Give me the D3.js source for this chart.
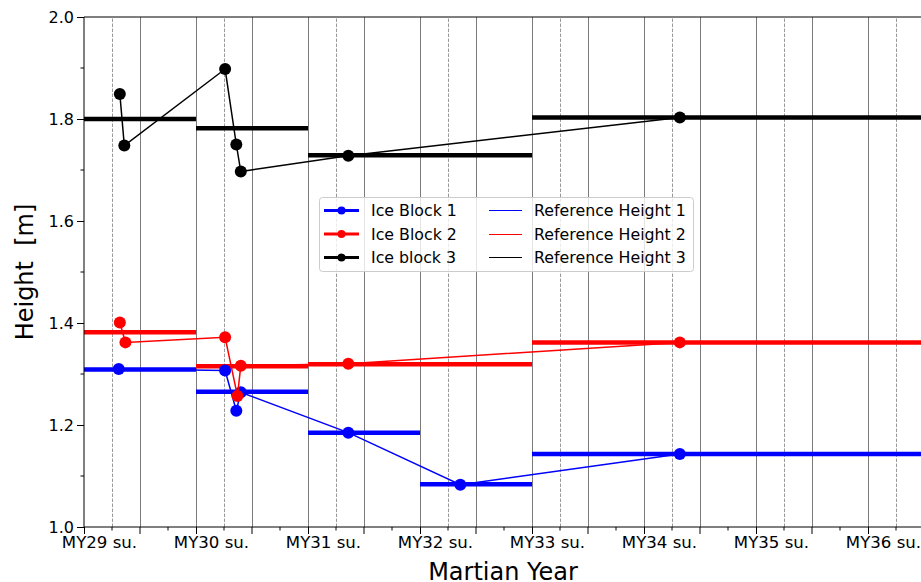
<!DOCTYPE html>
<html>
<head>
<meta charset="utf-8">
<script src="https://cdn.jsdelivr.net/npm/d3@7"></script>
<style>
    body { margin: 0; background: #fff; }
    svg { display: block; font-family: "DejaVu Sans", sans-serif; }
</style>
</head>
<body>
<div class="content"></div>
<script>
// tick labels
const yearLabels = ["MY29 su.", "MY30 su.", "MY31 su.", "MY32 su.", "MY33 su.", "MY34 su.", "MY35 su.", "MY36 su."];
const yTicks = [1.0, 1.2, 1.4, 1.6, 1.8, 2.0];

// measured heights (x in years since MY29 summer)
const block1X = [0.31, 1.26, 1.36, 1.40, 2.36, 3.36, 5.32];
const block1Y = [1.310, 1.307, 1.228, 1.264, 1.185, 1.083, 1.143];
const block2X = [0.32, 0.37, 1.26, 1.37, 1.40, 2.36, 5.32];
const block2Y = [1.401, 1.362, 1.372, 1.257, 1.316, 1.320, 1.362];
const block3X = [0.32, 0.36, 1.26, 1.36, 1.40, 2.36, 5.32];
const block3Y = [1.849, 1.748, 1.898, 1.750, 1.697, 1.728, 1.803];

// reference heights per period
const ref1Start = [0, 1, 2, 3, 4];
const ref1End = [1, 2, 3, 4, 7.6];
const ref1Y = [1.309, 1.265, 1.185, 1.084, 1.143];
const ref2Start = [0, 1, 2, 4];
const ref2End = [1, 2, 4, 7.6];
const ref2Y = [1.382, 1.315, 1.319, 1.362];
const ref3Start = [0, 1, 2, 4];
const ref3End = [1, 2, 4, 7.6];
const ref3Y = [1.800, 1.782, 1.729, 1.803];

const names = ["Ice Block 1", "Ice Block 2", "Ice block 3"];
const refNames = ["Reference Height 1", "Reference Height 2", "Reference Height 3"];
const colors = ["#0000ff", "#ff0000", "#000000"];

const width = 921, height = 582;
const margin = { left: 84, top: 17, right: -3, bottom: 55 };

const svg = d3.select(".content").append("svg")
    .attr("width", width)
    .attr("height", height);

const x = d3.scaleLinear().domain([0, 7.5]).range([margin.left, width - margin.right]);
const y = d3.scaleLinear().domain([1.0, 2.0]).range([height - margin.bottom, margin.top]);

svg.append("clipPath").attr("id", "plot-clip")
    .append("rect")
    .attr("x", margin.left).attr("y", margin.top)
    .attr("width", x(7.5) - margin.left).attr("height", y(1.0) - margin.top);

// vertical grid: solid at year starts and halves, dashed at quarter years
const solidGrid = d3.range(0.5, 7.6, 0.5);
const dashedGrid = d3.range(0, 7.5, 1).map(d => d + 0.25);

const grid = svg.append("g");
grid.selectAll("line.solid")
    .data(solidGrid)
    .join("line")
    .attr("x1", d => Math.round(x(d)) + 0.5).attr("x2", d => Math.round(x(d)) + 0.5)
    .attr("y1", y(1.0)).attr("y2", y(2.0))
    .attr("stroke", "#7a7a7a")
    .attr("stroke-width", 1);
grid.selectAll("line.dashed")
    .data(dashedGrid)
    .join("line")
    .attr("x1", d => Math.round(x(d)) + 0.5).attr("x2", d => Math.round(x(d)) + 0.5)
    .attr("y1", y(1.0)).attr("y2", y(2.0))
    .attr("stroke", "#9a9a9a")
    .attr("stroke-width", 1)
    .attr("stroke-dasharray", "3.5,1.5");

const plot = svg.append("g").attr("clip-path", "url(#plot-clip)");

// reference bars
const refs = [
    [ref1Start, ref1End, ref1Y],
    [ref2Start, ref2End, ref2Y],
    [ref3Start, ref3End, ref3Y]
];
refs.forEach(([starts, ends, ys], i) => {
    plot.append("g").selectAll("line")
        .data(ys)
        .join("line")
        .attr("x1", (d, j) => x(starts[j]))
        .attr("x2", (d, j) => x(ends[j]))
        .attr("y1", d => y(d))
        .attr("y2", d => y(d))
        .attr("stroke", colors[i])
        .attr("stroke-width", 4.5);
});

// measured series
const series = [
    [block1X, block1Y],
    [block2X, block2Y],
    [block3X, block3Y]
];
const line = d3.line().x(d => x(d[0])).y(d => y(d[1]));
series.forEach(([xs, ys], i) => {
    const pts = xs.map((d, j) => [d, ys[j]]);
    plot.append("path")
        .datum(pts)
        .attr("d", line)
        .attr("fill", "none")
        .attr("stroke", colors[i])
        .attr("stroke-width", 1.5);
    plot.append("g").selectAll("circle")
        .data(pts)
        .join("circle")
        .attr("cx", d => x(d[0]))
        .attr("cy", d => y(d[1]))
        .attr("r", 6)
        .attr("fill", colors[i]);
});

// axes
const xAxis = d3.axisBottom(x)
    .tickValues(d3.range(0, 8, 1))
    .tickFormat((d, i) => yearLabels[i])
    .tickSize(7)
    .tickPadding(2);
const xg = svg.append("g")
    .attr("transform", `translate(0,${y(1.0)})`)
    .call(xAxis);
xg.select(".domain").remove();
xg.selectAll("text")
    .attr("font-size", 16.6)
    .attr("font-family", "DejaVu Sans")
    .attr("fill", "#000")
    .attr("dx", 15);

// half-year ticks and minor quarter ticks
svg.append("g").selectAll("line")
    .data(d3.range(0.5, 7.6, 1))
    .join("line")
    .attr("x1", d => x(d)).attr("x2", d => x(d))
    .attr("y1", y(1.0)).attr("y2", y(1.0) + 7)
    .attr("stroke", "#000");
svg.append("g").selectAll("line")
    .data(d3.range(0, 7.5, 0.5).map(d => d + 0.25))
    .join("line")
    .attr("x1", d => x(d)).attr("x2", d => x(d))
    .attr("y1", y(1.0)).attr("y2", y(1.0) + 3.5)
    .attr("stroke", "#000");

const yAxis = d3.axisLeft(y)
    .tickValues(yTicks)
    .tickFormat(d3.format(".1f"))
    .tickSize(7)
    .tickPadding(3);
const yg = svg.append("g")
    .attr("transform", `translate(${margin.left},0)`)
    .call(yAxis);
yg.select(".domain").remove();
yg.selectAll("text").attr("font-size", 16).attr("font-family", "DejaVu Sans").attr("fill", "#000");
svg.append("g").selectAll("line")
    .data(d3.range(1.1, 2.0, 0.2))
    .join("line")
    .attr("x1", margin.left - 3.5).attr("x2", margin.left)
    .attr("y1", d => y(d)).attr("y2", d => y(d))
    .attr("stroke", "#000");

// spines
svg.append("line")
    .attr("x1", margin.left).attr("x2", margin.left)
    .attr("y1", y(1.0)).attr("y2", y(2.0))
    .attr("stroke", "#000").attr("stroke-width", 1);
svg.append("line")
    .attr("x1", margin.left).attr("x2", width)
    .attr("y1", y(1.0)).attr("y2", y(1.0))
    .attr("stroke", "#000").attr("stroke-width", 1);
svg.append("line")
    .attr("x1", margin.left).attr("x2", width)
    .attr("y1", y(2.0)).attr("y2", y(2.0))
    .attr("stroke", "#000").attr("stroke-width", 1);

// axis titles
svg.append("text")
    .attr("x", 503)
    .attr("y", 580)
    .attr("text-anchor", "middle")
    .attr("font-size", 24)
    .text("Martian Year");
svg.append("text")
    .attr("transform", `translate(33,${(y(1.0) + y(2.0)) / 2}) rotate(-90)`)
    .attr("text-anchor", "middle")
    .attr("font-size", 24)
    .attr("xml:space", "preserve")
    .text("Height  [m]");

// legend
const legend = svg.append("g").attr("transform", "translate(319,197)");
legend.append("rect")
    .attr("x", 0.5).attr("y", 0.5)
    .attr("width", 374).attr("height", 74)
    .attr("rx", 3)
    .attr("fill", "#fff").attr("fill-opacity", 0.8)
    .attr("stroke", "#cccccc");
names.forEach((name, i) => {
    const ly = 13.5 + i * 23.5;
    legend.append("line")
        .attr("x1", 5).attr("x2", 40)
        .attr("y1", ly).attr("y2", ly)
        .attr("stroke", colors[i]).attr("stroke-width", 3);
    legend.append("circle")
        .attr("cx", 22.5).attr("cy", ly).attr("r", 4)
        .attr("fill", colors[i]);
    legend.append("text")
        .attr("x", 52).attr("y", ly)
        .attr("dy", "0.36em")
        .attr("font-size", 15.8)
        .text(name);
});
refNames.forEach((name, i) => {
    const ly = Math.round(13 + i * 23.5) + 0.5;
    legend.append("line")
        .attr("x1", 170).attr("x2", 203)
        .attr("y1", ly).attr("y2", ly)
        .attr("stroke", colors[i]).attr("stroke-width", 1.2);
    legend.append("text")
        .attr("x", 215).attr("y", ly)
        .attr("dy", "0.36em")
        .attr("font-size", 15.8)
        .text(name);
});
</script>
</body>
</html>
